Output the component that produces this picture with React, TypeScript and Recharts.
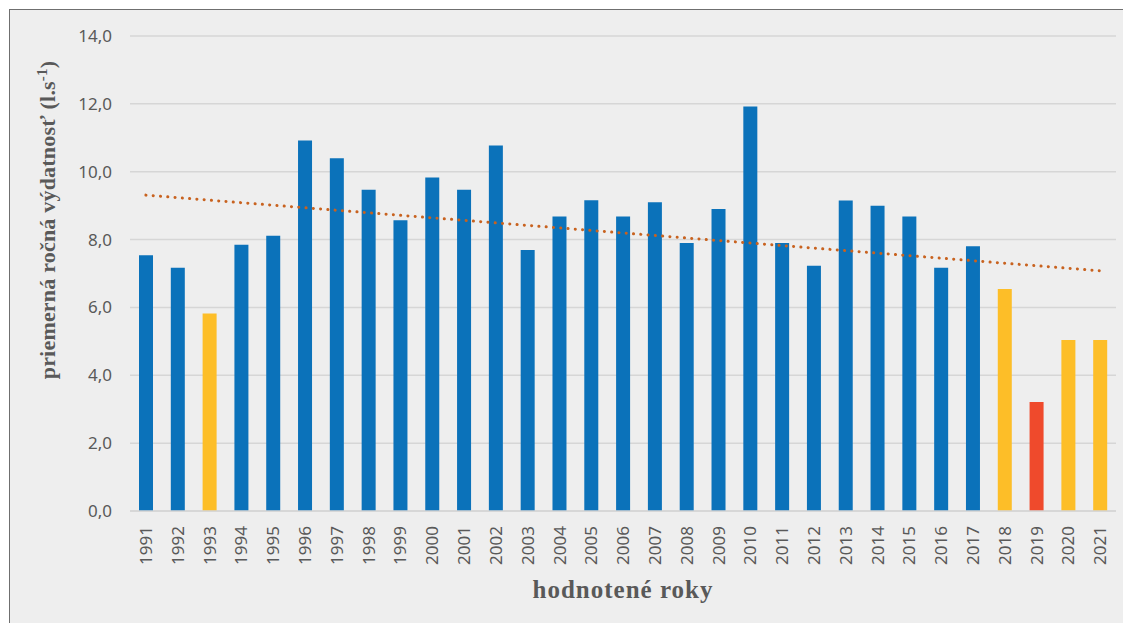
import React from "react";
import { BarChart, Bar, XAxis, YAxis, CartesianGrid, Cell, ReferenceLine } from "recharts";

// hodnotené roky
const years = [
  "1991", "1992", "1993", "1994", "1995", "1996", "1997", "1998", "1999", "2000",
  "2001", "2002", "2003", "2004", "2005", "2006", "2007", "2008", "2009", "2010",
  "2011", "2012", "2013", "2014", "2015", "2016", "2017", "2018", "2019", "2020", "2021"
];

// priemerná ročná výdatnosť (l/s)
const flows = [
  7.54, 7.17, 5.82, 7.85, 8.11, 10.92, 10.4, 9.47, 8.57, 9.83,
  9.47, 10.77, 7.69, 8.68, 9.16, 8.68, 9.1, 7.9, 8.9, 11.92,
  7.9, 7.23, 9.15, 9.0, 8.68, 7.17, 7.8, 6.54, 3.21, 5.04, 5.04
];

// n = normal, d = dry year, x = extreme
const status = [
  "n", "n", "d", "n", "n", "n", "n", "n", "n", "n",
  "n", "n", "n", "n", "n", "n", "n", "n", "n", "n",
  "n", "n", "n", "n", "n", "n", "n", "d", "x", "d", "d"
];

const yTicks = [0, 2, 4, 6, 8, 10, 12, 14];

// linear trend end points (Excel trendline)
const trendStart = 9.31;
const trendEnd = 7.08;

const statusColor: Record<string, string> = {
  n: "#0B72BA",
  d: "#FDBE28",
  x: "#EF4A2C"
};

const data = years.map((year, i) => ({ year, value: flows[i], status: status[i] }));

const textGray = "#595959";

const YearTick = (props: any) => {
  const { x, y, payload } = props;
  return (
    <text
      transform={`translate(${x},${y}) rotate(-90)`}
      textAnchor="end"
      dy="0.36em"
      fontSize={17}
      fontFamily="'Noto Sans', sans-serif"
      fill={textGray}
    >
      {payload.value}
    </text>
  );
};

const YTitle = () => (
  <text
    transform="translate(55,220) rotate(-90)"
    textAnchor="middle"
    fontFamily="'Liberation Serif', serif"
    fontWeight="bold"
    fontSize={22}
    letterSpacing={0.2}
    fill={textGray}
  >
    priemerná ročná výdatnosť (l.s
    <tspan fontSize={15} dy={-8}>-1</tspan>
    <tspan dy={8}>)</tspan>
  </text>
);

const XTitle = () => (
  <text
    x={623}
    y={598}
    textAnchor="middle"
    fontFamily="'Liberation Serif', serif"
    fontWeight="bold"
    fontSize={25}
    letterSpacing={1}
    fill={textGray}
  >
    hodnotené roky
  </text>
);

export default function App() {
  return (
    <div
      style={{
        position: "fixed",
        left: 0,
        top: 0,
        width: 1123,
        height: 623,
        background: "#fff",
        overflow: "hidden"
      }}
    >
      <div
        style={{
          position: "absolute",
          left: 9,
          top: 9,
          width: 1130,
          height: 630,
          border: "1px solid #6f6f6f",
          background: "#EEEEEE"
        }}
      />
      <div style={{ position: "absolute", left: 0, top: 0 }}>
        <BarChart
          width={1123}
          height={623}
          data={data}
          margin={{ top: 36, right: 7, left: 0, bottom: 0 }}
          barSize={14}
        >
          <CartesianGrid vertical={false} stroke="#D6D6D6" strokeWidth={1.5} />
          <XAxis
            dataKey="year"
            interval={0}
            height={112}
            tickLine={false}
            tickSize={0}
            tickMargin={15}
            axisLine={{ stroke: "#D6D6D6", strokeWidth: 1.5 }}
            tick={<YearTick />}
            label={<XTitle />}
          />
          <YAxis
            width={130}
            domain={[0, 14]}
            ticks={yTicks}
            interval={0}
            axisLine={false}
            tickLine={false}
            tickSize={0}
            tickMargin={18}
            tickFormatter={(v: number) => v.toFixed(1).replace(".", ",")}
            tick={{ fontSize: 17, fill: textGray, fontFamily: "'Noto Sans', sans-serif" }}
            label={<YTitle />}
          />
          <Bar dataKey="value" isAnimationActive={false}>
            {data.map((d) => (
              <Cell key={d.year} fill={statusColor[d.status]} />
            ))}
          </Bar>
          <ReferenceLine
            segment={[
              { x: years[0], y: trendStart },
              { x: years[years.length - 1], y: trendEnd }
            ]}
            stroke="#C8621F"
            strokeWidth={3}
            strokeLinecap="round"
            strokeDasharray="0.1 7.2"
          />
        </BarChart>
      </div>
    </div>
  );
}
